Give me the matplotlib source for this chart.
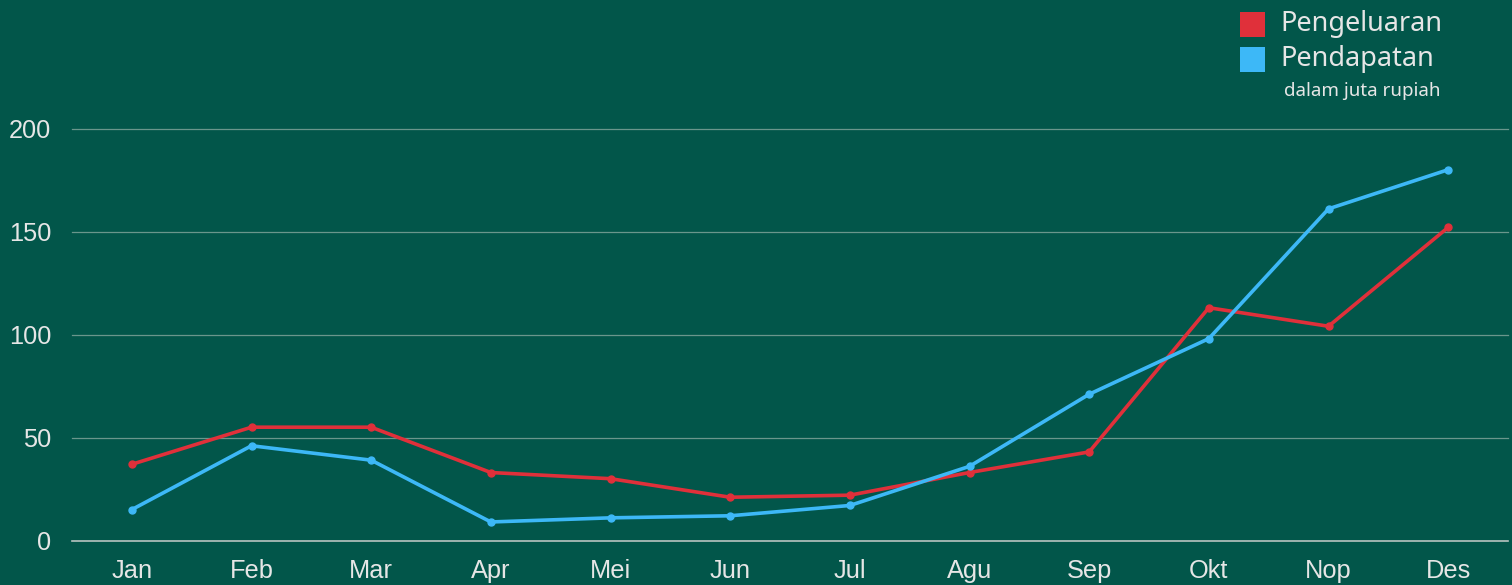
import matplotlib
matplotlib.use("Agg")
import matplotlib.pyplot as plt
from matplotlib.patches import Rectangle

months = ["Jan", "Feb", "Mar", "Apr", "Mei", "Jun", "Jul", "Agu", "Sep", "Okt", "Nop", "Des"]
pengeluaran = [37, 55, 55, 33, 30, 21, 22, 33, 43, 113, 104, 152]
pendapatan = [15, 46, 39, 9, 11, 12, 17, 36, 71, 98, 161, 180]
yticks = [0, 50, 100, 150, 200]

BG = "#02564A"
RED = "#E0303A"
BLUE = "#3DB8F7"
TXT = "#E6E6E6"

W, H = 1512, 585
fig = plt.figure(figsize=(W / 100, H / 100), dpi=100)
fig.patch.set_facecolor(BG)

left, right, bottom, top = 72, 1508, 540.5, 128.5
ax = fig.add_axes([left / W, (H - bottom) / H, (right - left) / W, (bottom - top) / H])
ax.set_facecolor(BG)
x = list(range(len(months)))
ax.plot(x, pengeluaran, color=RED, lw=2.6, marker="o", ms=5, clip_on=False, zorder=3)
ax.plot(x, pendapatan, color=BLUE, lw=2.6, marker="o", ms=5, clip_on=False, zorder=3)
ax.set_xlim(-0.5, 11.5)
ax.set_ylim(0, 200)
ax.set_yticks(yticks)
ax.set_xticks(x)
ax.set_xticklabels(months)
for s in ax.spines.values():
    s.set_visible(False)
for yv in yticks:
    if yv == 0:
        ax.axhline(yv, color="#B8C4C0", lw=1.2, zorder=1, clip_on=False)
    else:
        ax.axhline(yv, color="#6A968C", lw=0.9, zorder=1, clip_on=False)
ax.tick_params(axis="both", length=0, colors=TXT, labelsize=18.3, labelfontfamily="Liberation Sans")
ax.tick_params(axis="y", pad=15)
ax.tick_params(axis="x", pad=13)

# legend
fig.patches.append(Rectangle((1240 / W, (H - 37) / H), 25 / W, 25 / H, transform=fig.transFigure,
                             facecolor=RED, edgecolor="none"))
fig.patches.append(Rectangle((1240 / W, (H - 72) / H), 25 / W, 25 / H, transform=fig.transFigure,
                             facecolor=BLUE, edgecolor="none"))
fig.text(1280 / W, (H - 24) / H, "Pengeluaran", color=TXT, fontsize=19.5, family="Noto Sans",
         va="center", ha="left")
fig.text(1280 / W, (H - 59) / H, "Pendapatan", color=TXT, fontsize=19.5, family="Noto Sans",
         va="center", ha="left")
fig.text(1284 / W, (H - 91) / H, "dalam juta rupiah", color=TXT, fontsize=13.5, family="Noto Sans",
         va="center", ha="left")

fig.savefig("out.png", dpi=100, facecolor=BG)
